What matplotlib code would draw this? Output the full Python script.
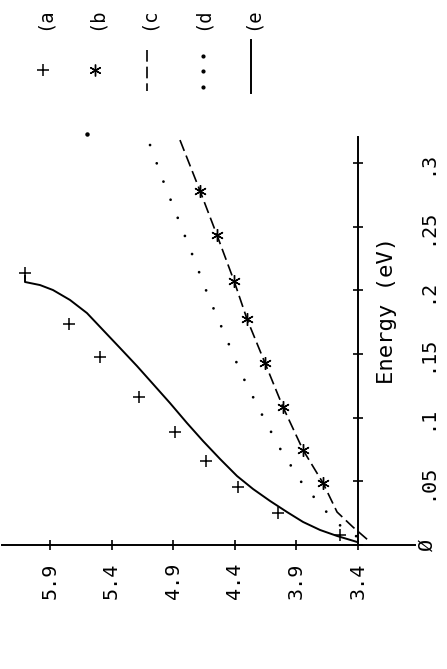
import matplotlib
matplotlib.use("Agg")
import matplotlib.pyplot as plt

plt.rcParams['font.family'] = ['DejaVu Sans Mono', 'DejaVu Sans']

# value axis ticks (3.4 ... 5.9) and energy axis ticks
value_ticks = [5.9, 5.4, 4.9, 4.4, 3.9, 3.4]
value_labels = ['5.9', '5.4', '4.9', '4.4', '3.9', '3.4']
energy_ticks = [0, 0.05, 0.1, 0.15, 0.2, 0.25, 0.3]
energy_labels = ['Ø', '.05', '.1', '.15', '.2', '.25', '.3']

# (a) plus markers
a_energy = [0.0079, 0.0251, 0.0456, 0.066, 0.0888, 0.1163, 0.1477, 0.1736, 0.2137]
a_value = [3.546, 4.049, 4.374, 4.634, 4.885, 5.178, 5.494, 5.746, 6.103]

# (b) star markers
b_energy = [0.0487, 0.0746, 0.1084, 0.143, 0.1775, 0.2074, 0.2435, 0.2781]
b_value = [3.684, 3.846, 4.009, 4.155, 4.301, 4.406, 4.545, 4.682]

# (c) dashed curve
c_energy = [0.3181, 0.2781, 0.2435, 0.2074, 0.1775, 0.143, 0.1084, 0.0746,
            0.0487, 0.0259, 0.0141, 0.0039]
c_value = [4.845, 4.682, 4.545, 4.406, 4.301, 4.155, 4.009, 3.846,
           3.684, 3.570, 3.441, 3.319]

# (d) dotted curve (+ one stray dot)
d_energy = [0.3142, 0.2844, 0.2545, 0.2247, 0.194, 0.165, 0.1351, 0.1053,
            0.077, 0.0487, 0.0236, 0.0126, 0.0047]
d_value = [5.088, 4.975, 4.853, 4.731, 4.609, 4.480, 4.350, 4.195,
           4.041, 3.855, 3.635, 3.514, 3.376]
d_extra_energy = [0.3229]
d_extra_value = [5.600]

# (e) solid curve
e_energy = [0.2113, 0.2066, 0.2042, 0.2003, 0.1925, 0.1822, 0.1689, 0.1548,
            0.1406, 0.1265, 0.1115, 0.0958, 0.0817, 0.0676, 0.0542, 0.044,
            0.0346, 0.0259, 0.0181, 0.0118, 0.0071, 0.0024]
e_value = [6.103, 6.103, 5.981, 5.876, 5.738, 5.600, 5.470, 5.332,
           5.194, 5.064, 4.926, 4.788, 4.658, 4.520, 4.382, 4.252,
           4.114, 3.976, 3.846, 3.708, 3.570, 3.408]

legend_labels = ['(a', '(b', '(c', '(d', '(e']

W, H = 447, 669
fig = plt.figure(figsize=(W / 100, H / 100), dpi=100)
ax = fig.add_axes([2 / W, (H - 545) / H, 413 / W, 408 / H])

star = (6, 2, 0)
kw = dict(color='black', clip_on=False)
ax.plot(e_value, e_energy, lw=1.4, **kw)
ax.plot(c_value, c_energy, lw=1.2, linestyle=(0, (7, 3)), **kw)
ax.plot(d_value, d_energy, lw=2.0, linestyle=(0, (0.01, 7)),
        dash_capstyle='round', **kw)
ax.plot(d_extra_value, d_extra_energy, 'o', ms=2.2, **kw)
ax.plot(a_value, a_energy, '+', ms=8, mew=1.1, linestyle='none', **kw)
ax.plot(b_value, b_energy, marker=star, ms=9, mew=1.0, linestyle='none', **kw)

ax.set_xlim(3.4 + 356 / 123.2, 3.4 - 57 / 123.2)
ax.set_ylim(0, 408 / 1273)
ax.patch.set_alpha(0)

for s in ['top', 'left']:
    ax.spines[s].set_visible(False)
ax.spines['right'].set_position(('data', 3.4))
ax.spines['right'].set_linewidth(1.4)
ax.spines['bottom'].set_linewidth(1.4)
ax.yaxis.tick_right()

ax.set_xticks(value_ticks)
ax.set_xticklabels(value_labels, rotation=90, fontsize=14.5)
ax.set_yticks(energy_ticks)
ax.set_yticklabels(energy_labels, rotation=90, fontsize=14.5, va='center')
ax.tick_params(axis='both', direction='inout', length=7.2, width=1.2)
ax.tick_params(axis='x', pad=9)
ax.tick_params(axis='y', pad=39)

# overlay in pixel coordinates for legend and axis title
ov = fig.add_axes([0, 0, 1, 1])
ov.set_xlim(0, W)
ov.set_ylim(H, 0)
ov.axis('off')
ov.patch.set_alpha(0)

ov.text(387, 310, 'Energy (eV)', rotation=90, ha='center', va='center', fontsize=16)

leg_x = [44, 96, 148, 202, 252]
for x, lab in zip(leg_x, legend_labels):
    ov.text(x, 30, lab, rotation=90, ha='center', va='bottom', fontsize=13.5)
ov.plot([43], [70], '+', ms=8, mew=1.1, color='black')
ov.plot([95], [70], marker=star, ms=8.5, mew=1.0, color='black')
ov.plot([147, 147], [50, 91], lw=1.2, linestyle=(0, (7, 3)), color='black')
ov.plot([203, 203, 203], [56, 71, 87], 'o', ms=2.0, color='black')
ov.plot([251, 251], [40, 93], lw=1.4, color='black')

fig.savefig('out.png', dpi=100)
